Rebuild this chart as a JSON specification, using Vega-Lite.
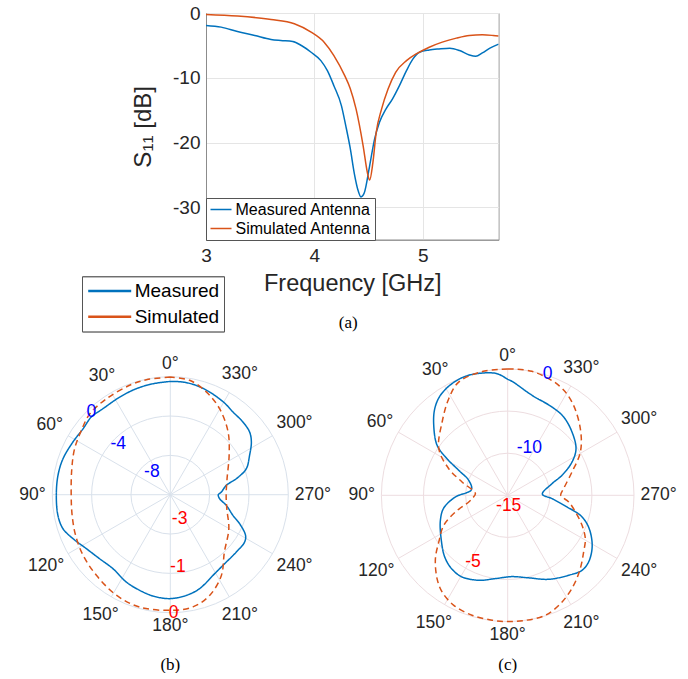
{
  "$schema": "https://vega.github.io/schema/vega-lite/v6.json",
  "background": "white",
  "padding": {"left": 11, "top": 3, "right": 0, "bottom": 0},
  "config": {
    "view": {"stroke": null},
    "font": "Liberation Sans",
    "title": {"font": "Liberation Serif", "fontSize": 17, "fontWeight": "normal", "color": "#000000"}
  },
  "datasets": {
    "s11": [
      {"antenna": "Measured Antenna", "freq": 3.00, "s11": -1.92},
      {"antenna": "Measured Antenna", "freq": 3.14, "s11": -2.18},
      {"antenna": "Measured Antenna", "freq": 3.29, "s11": -2.85},
      {"antenna": "Measured Antenna", "freq": 3.45, "s11": -3.47},
      {"antenna": "Measured Antenna", "freq": 3.60, "s11": -4.09},
      {"antenna": "Measured Antenna", "freq": 3.69, "s11": -4.25},
      {"antenna": "Measured Antenna", "freq": 3.80, "s11": -4.40},
      {"antenna": "Measured Antenna", "freq": 3.88, "s11": -5.02},
      {"antenna": "Measured Antenna", "freq": 3.97, "s11": -6.06},
      {"antenna": "Measured Antenna", "freq": 4.06, "s11": -7.35},
      {"antenna": "Measured Antenna", "freq": 4.12, "s11": -8.90},
      {"antenna": "Measured Antenna", "freq": 4.18, "s11": -11.22},
      {"antenna": "Measured Antenna", "freq": 4.25, "s11": -14.33},
      {"antenna": "Measured Antenna", "freq": 4.29, "s11": -17.43},
      {"antenna": "Measured Antenna", "freq": 4.33, "s11": -20.8},
      {"antenna": "Measured Antenna", "freq": 4.37, "s11": -24.9},
      {"antenna": "Measured Antenna", "freq": 4.40, "s11": -27.2},
      {"antenna": "Measured Antenna", "freq": 4.43, "s11": -28.4},
      {"antenna": "Measured Antenna", "freq": 4.46, "s11": -27.8},
      {"antenna": "Measured Antenna", "freq": 4.51, "s11": -23.6},
      {"antenna": "Measured Antenna", "freq": 4.555, "s11": -19.5},
      {"antenna": "Measured Antenna", "freq": 4.60, "s11": -16.9},
      {"antenna": "Measured Antenna", "freq": 4.66, "s11": -14.84},
      {"antenna": "Measured Antenna", "freq": 4.72, "s11": -13.3},
      {"antenna": "Measured Antenna", "freq": 4.785, "s11": -11.22},
      {"antenna": "Measured Antenna", "freq": 4.85, "s11": -8.9},
      {"antenna": "Measured Antenna", "freq": 4.91, "s11": -7.09},
      {"antenna": "Measured Antenna", "freq": 4.97, "s11": -6.06},
      {"antenna": "Measured Antenna", "freq": 5.06, "s11": -5.7},
      {"antenna": "Measured Antenna", "freq": 5.15, "s11": -5.54},
      {"antenna": "Measured Antenna", "freq": 5.25, "s11": -5.43},
      {"antenna": "Measured Antenna", "freq": 5.34, "s11": -5.8},
      {"antenna": "Measured Antenna", "freq": 5.43, "s11": -6.47},
      {"antenna": "Measured Antenna", "freq": 5.49, "s11": -6.67},
      {"antenna": "Measured Antenna", "freq": 5.55, "s11": -6.16},
      {"antenna": "Measured Antenna", "freq": 5.62, "s11": -5.43},
      {"antenna": "Measured Antenna", "freq": 5.70, "s11": -4.8},
      {"antenna": "Simulated Antenna", "freq": 3.00, "s11": -0.22},
      {"antenna": "Simulated Antenna", "freq": 3.29, "s11": -0.47},
      {"antenna": "Simulated Antenna", "freq": 3.60, "s11": -0.99},
      {"antenna": "Simulated Antenna", "freq": 3.815, "s11": -1.66},
      {"antenna": "Simulated Antenna", "freq": 3.97, "s11": -2.95},
      {"antenna": "Simulated Antenna", "freq": 4.09, "s11": -4.5},
      {"antenna": "Simulated Antenna", "freq": 4.18, "s11": -6.57},
      {"antenna": "Simulated Antenna", "freq": 4.28, "s11": -9.67},
      {"antenna": "Simulated Antenna", "freq": 4.33, "s11": -11.6},
      {"antenna": "Simulated Antenna", "freq": 4.385, "s11": -14.84},
      {"antenna": "Simulated Antenna", "freq": 4.45, "s11": -20.5},
      {"antenna": "Simulated Antenna", "freq": 4.49, "s11": -24.7},
      {"antenna": "Simulated Antenna", "freq": 4.51, "s11": -25.8},
      {"antenna": "Simulated Antenna", "freq": 4.54, "s11": -23.1},
      {"antenna": "Simulated Antenna", "freq": 4.57, "s11": -18.5},
      {"antenna": "Simulated Antenna", "freq": 4.62, "s11": -14.84},
      {"antenna": "Simulated Antenna", "freq": 4.68, "s11": -11.74},
      {"antenna": "Simulated Antenna", "freq": 4.75, "s11": -9.16},
      {"antenna": "Simulated Antenna", "freq": 4.85, "s11": -7.35},
      {"antenna": "Simulated Antenna", "freq": 4.94, "s11": -6.32},
      {"antenna": "Simulated Antenna", "freq": 5.06, "s11": -5.28},
      {"antenna": "Simulated Antenna", "freq": 5.18, "s11": -4.5},
      {"antenna": "Simulated Antenna", "freq": 5.31, "s11": -3.88},
      {"antenna": "Simulated Antenna", "freq": 5.43, "s11": -3.47},
      {"antenna": "Simulated Antenna", "freq": 5.55, "s11": -3.37},
      {"antenna": "Simulated Antenna", "freq": 5.65, "s11": -3.47},
      {"antenna": "Simulated Antenna", "freq": 5.70, "s11": -3.55}
    ],
    "angles": [
      {"a": 0, "t": "0°"}, {"a": 30, "t": "30°"}, {"a": 60, "t": "60°"}, {"a": 90, "t": "90°"},
      {"a": 120, "t": "120°"}, {"a": 150, "t": "150°"}, {"a": 180, "t": "180°"}, {"a": 210, "t": "210°"},
      {"a": 240, "t": "240°"}, {"a": 270, "t": "270°"}, {"a": 300, "t": "300°"}, {"a": 330, "t": "330°"}
    ],
    "rings": [{"ring": 0.3333}, {"ring": 0.6667}, {"ring": 1}],
    "patB": [
      {"series": "Measured", "theta": 0, "db": -0.48},
      {"series": "Measured", "theta": 8.9, "db": -0.58},
      {"series": "Measured", "theta": 17.8, "db": -0.68},
      {"series": "Measured", "theta": 27.4, "db": -0.82},
      {"series": "Measured", "theta": 38.1, "db": -0.89},
      {"series": "Measured", "theta": 45.5, "db": -0.73},
      {"series": "Measured", "theta": 52.9, "db": -0.88},
      {"series": "Measured", "theta": 61.6, "db": -0.74},
      {"series": "Measured", "theta": 71.5, "db": -0.49},
      {"series": "Measured", "theta": 80.2, "db": -0.41},
      {"series": "Measured", "theta": 90, "db": -0.41},
      {"series": "Measured", "theta": 100.4, "db": -0.38},
      {"series": "Measured", "theta": 107.6, "db": -0.55},
      {"series": "Measured", "theta": 114.3, "db": -1.14},
      {"series": "Measured", "theta": 122.7, "db": -1.85},
      {"series": "Measured", "theta": 132.2, "db": -2.30},
      {"series": "Measured", "theta": 142.2, "db": -2.48},
      {"series": "Measured", "theta": 153.3, "db": -2.05},
      {"series": "Measured", "theta": 162.2, "db": -1.79},
      {"series": "Measured", "theta": 170.3, "db": -1.55},
      {"series": "Measured", "theta": 179.6, "db": -1.43},
      {"series": "Measured", "theta": 189, "db": -1.63},
      {"series": "Measured", "theta": 197.3, "db": -1.99},
      {"series": "Measured", "theta": 207.9, "db": -2.72},
      {"series": "Measured", "theta": 216.7, "db": -3.04},
      {"series": "Measured", "theta": 229, "db": -3.11},
      {"series": "Measured", "theta": 237.5, "db": -3.04},
      {"series": "Measured", "theta": 241.6, "db": -3.30},
      {"series": "Measured", "theta": 247.3, "db": -4.36},
      {"series": "Measured", "theta": 251.7, "db": -5.29},
      {"series": "Measured", "theta": 259.2, "db": -6.20},
      {"series": "Measured", "theta": 265.4, "db": -6.97},
      {"series": "Measured", "theta": 270, "db": -7.12},
      {"series": "Measured", "theta": 273, "db": -6.80},
      {"series": "Measured", "theta": 279.5, "db": -6.23},
      {"series": "Measured", "theta": 283.6, "db": -5.09},
      {"series": "Measured", "theta": 288.9, "db": -3.83},
      {"series": "Measured", "theta": 296.4, "db": -3.00},
      {"series": "Measured", "theta": 303, "db": -2.17},
      {"series": "Measured", "theta": 308.3, "db": -1.72},
      {"series": "Measured", "theta": 315, "db": -1.55},
      {"series": "Measured", "theta": 322.8, "db": -1.45},
      {"series": "Measured", "theta": 329.6, "db": -1.16},
      {"series": "Measured", "theta": 339, "db": -0.82},
      {"series": "Measured", "theta": 346.6, "db": -0.58},
      {"series": "Measured", "theta": 353.6, "db": -0.47},
      {"series": "Measured", "theta": 360, "db": -0.48},
      {"series": "Simulated", "theta": 0, "db": -0.01},
      {"series": "Simulated", "theta": 11.7, "db": -0.015},
      {"series": "Simulated", "theta": 19.8, "db": -0.03},
      {"series": "Simulated", "theta": 33.7, "db": -0.07},
      {"series": "Simulated", "theta": 44.9, "db": -0.10},
      {"series": "Simulated", "theta": 54.1, "db": -0.21},
      {"series": "Simulated", "theta": 64.3, "db": -0.30},
      {"series": "Simulated", "theta": 75.2, "db": -0.41},
      {"series": "Simulated", "theta": 90, "db": -0.48},
      {"series": "Simulated", "theta": 101.9, "db": -0.45},
      {"series": "Simulated", "theta": 113.2, "db": -0.38},
      {"series": "Simulated", "theta": 124.8, "db": -0.30},
      {"series": "Simulated", "theta": 137.5, "db": -0.22},
      {"series": "Simulated", "theta": 151.8, "db": -0.10},
      {"series": "Simulated", "theta": 164.7, "db": -0.04},
      {"series": "Simulated", "theta": 180, "db": -0.06},
      {"series": "Simulated", "theta": 191.4, "db": -0.09},
      {"series": "Simulated", "theta": 201.3, "db": -0.25},
      {"series": "Simulated", "theta": 212.3, "db": -0.57},
      {"series": "Simulated", "theta": 223.1, "db": -0.99},
      {"series": "Simulated", "theta": 239.9, "db": -1.28},
      {"series": "Simulated", "theta": 256.1, "db": -1.52},
      {"series": "Simulated", "theta": 270, "db": -1.58},
      {"series": "Simulated", "theta": 285.8, "db": -1.50},
      {"series": "Simulated", "theta": 303.8, "db": -1.20},
      {"series": "Simulated", "theta": 317.4, "db": -0.83},
      {"series": "Simulated", "theta": 330.2, "db": -0.48},
      {"series": "Simulated", "theta": 340.7, "db": -0.23},
      {"series": "Simulated", "theta": 350.4, "db": -0.05},
      {"series": "Simulated", "theta": 360, "db": -0.01}
    ],
    "patC": [
      {"series": "Measured", "theta": 0, "db": -1.23},
      {"series": "Measured", "theta": 5, "db": -0.50},
      {"series": "Measured", "theta": 11.8, "db": -0.17},
      {"series": "Measured", "theta": 19.5, "db": 0},
      {"series": "Measured", "theta": 26.5, "db": -0.18},
      {"series": "Measured", "theta": 34, "db": -0.69},
      {"series": "Measured", "theta": 40.1, "db": -1.55},
      {"series": "Measured", "theta": 46.6, "db": -2.91},
      {"series": "Measured", "theta": 54.7, "db": -4.73},
      {"series": "Measured", "theta": 58.9, "db": -6.59},
      {"series": "Measured", "theta": 63, "db": -8.48},
      {"series": "Measured", "theta": 69, "db": -10.04},
      {"series": "Measured", "theta": 81.1, "db": -10.64},
      {"series": "Measured", "theta": 91.8, "db": -8.79},
      {"series": "Measured", "theta": 101.2, "db": -7.26},
      {"series": "Measured", "theta": 110.4, "db": -6.47},
      {"series": "Measured", "theta": 123, "db": -5.57},
      {"series": "Measured", "theta": 134.4, "db": -4.53},
      {"series": "Measured", "theta": 143, "db": -4.01},
      {"series": "Measured", "theta": 150.8, "db": -3.89},
      {"series": "Measured", "theta": 161.2, "db": -4.34},
      {"series": "Measured", "theta": 171.6, "db": -5.0},
      {"series": "Measured", "theta": 183, "db": -5.33},
      {"series": "Measured", "theta": 194.3, "db": -4.88},
      {"series": "Measured", "theta": 206, "db": -3.90},
      {"series": "Measured", "theta": 217.3, "db": -3.06},
      {"series": "Measured", "theta": 224.7, "db": -2.46},
      {"series": "Measured", "theta": 230.5, "db": -2.55},
      {"series": "Measured", "theta": 237.7, "db": -3.15},
      {"series": "Measured", "theta": 244.4, "db": -4.02},
      {"series": "Measured", "theta": 250.3, "db": -5.0},
      {"series": "Measured", "theta": 254.6, "db": -6.05},
      {"series": "Measured", "theta": 258.9, "db": -7.82},
      {"series": "Measured", "theta": 265.7, "db": -9.72},
      {"series": "Measured", "theta": 272, "db": -10.88},
      {"series": "Measured", "theta": 284.7, "db": -9.56},
      {"series": "Measured", "theta": 290.2, "db": -8.13},
      {"series": "Measured", "theta": 297.4, "db": -6.39},
      {"series": "Measured", "theta": 304.3, "db": -5.18},
      {"series": "Measured", "theta": 314.6, "db": -4.28},
      {"series": "Measured", "theta": 324.4, "db": -3.57},
      {"series": "Measured", "theta": 333.3, "db": -3.27},
      {"series": "Measured", "theta": 346.3, "db": -2.78},
      {"series": "Measured", "theta": 357.8, "db": -1.46},
      {"series": "Measured", "theta": 360, "db": -1.23},
      {"series": "Simulated", "theta": 0, "db": 0},
      {"series": "Simulated", "theta": 11.6, "db": 0},
      {"series": "Simulated", "theta": 23.4, "db": -0.35},
      {"series": "Simulated", "theta": 31.4, "db": -1.56},
      {"series": "Simulated", "theta": 41.8, "db": -3.32},
      {"series": "Simulated", "theta": 55.9, "db": -5.12},
      {"series": "Simulated", "theta": 65.7, "db": -7.32},
      {"series": "Simulated", "theta": 73.7, "db": -9.35},
      {"series": "Simulated", "theta": 87, "db": -11.16},
      {"series": "Simulated", "theta": 95.3, "db": -10.74},
      {"series": "Simulated", "theta": 99.7, "db": -10.31},
      {"series": "Simulated", "theta": 107.7, "db": -8.48},
      {"series": "Simulated", "theta": 115.1, "db": -6.62},
      {"series": "Simulated", "theta": 124.1, "db": -5.12},
      {"series": "Simulated", "theta": 131.2, "db": -3.59},
      {"series": "Simulated", "theta": 139.7, "db": -2.03},
      {"series": "Simulated", "theta": 145.8, "db": -1.13},
      {"series": "Simulated", "theta": 153.9, "db": -0.45},
      {"series": "Simulated", "theta": 163.4, "db": -0.14},
      {"series": "Simulated", "theta": 172.9, "db": -0.05},
      {"series": "Simulated", "theta": 180, "db": 0},
      {"series": "Simulated", "theta": 188, "db": 0},
      {"series": "Simulated", "theta": 197.4, "db": -0.06},
      {"series": "Simulated", "theta": 207, "db": -0.78},
      {"series": "Simulated", "theta": 216.3, "db": -1.76},
      {"series": "Simulated", "theta": 224.7, "db": -2.75},
      {"series": "Simulated", "theta": 233.3, "db": -3.75},
      {"series": "Simulated", "theta": 240.8, "db": -4.44},
      {"series": "Simulated", "theta": 248, "db": -5.48},
      {"series": "Simulated", "theta": 256.2, "db": -6.72},
      {"series": "Simulated", "theta": 263.8, "db": -7.71},
      {"series": "Simulated", "theta": 270, "db": -8.7},
      {"series": "Simulated", "theta": 276.8, "db": -8.31},
      {"series": "Simulated", "theta": 290, "db": -6.87},
      {"series": "Simulated", "theta": 300.8, "db": -4.95},
      {"series": "Simulated", "theta": 312.5, "db": -3.3},
      {"series": "Simulated", "theta": 325.4, "db": -1.55},
      {"series": "Simulated", "theta": 335.1, "db": -0.6},
      {"series": "Simulated", "theta": 349, "db": 0},
      {"series": "Simulated", "theta": 360, "db": 0}
    ]
  },
  "spacing": 10.7,
  "resolve": {"scale": {"color": "independent", "strokeDash": "independent", "size": "independent"}},
  "vconcat": [
    {
      "spacing": 10,
      "resolve": {"scale": {"color": "independent", "strokeDash": "independent"}},
      "hconcat": [
        {
          "width": 60, "height": 20,
          "data": {"values": [{"t": ""}]},
          "mark": {"type": "text"},
          "encoding": {"text": {"field": "t"}}
        },
        {
          "width": 292.6, "height": 226.7,
          "view": {"stroke": "#a0a0a0"},
          "title": {"text": "(a)", "orient": "bottom", "frame": "group", "anchor": "middle", "offset": -17, "dx": -4},
          "layer": [
            {
              "data": {"name": "s11"},
              "mark": {"type": "line", "strokeWidth": 1.5, "interpolate": "monotone", "clip": true},
              "encoding": {
                "x": {"field": "freq", "type": "quantitative",
                  "scale": {"domain": [3, 5.7], "nice": false, "zero": false},
                  "axis": {"values": [3, 4, 5], "format": "d", "labelFlush": false, "grid": true, "gridColor": "#e5e5e5", "domainColor": "#8c8c8c", "ticks": false, "tickSize": 0,
                    "labelFontSize": 19, "labelColor": "#262626", "labelPadding": 7,
                    "title": "Frequency [GHz]", "titleFontSize": 23.5, "titleFontWeight": "normal", "titleColor": "#262626", "titlePadding": 6}},
                "y": {"field": "s11", "type": "quantitative",
                  "scale": {"domain": [-35, 0], "nice": false, "zero": false},
                  "axis": {"values": [-30, -20, -10, 0], "labelExpr": "replace(datum.label, '−', '-')", "labelFlush": false, "grid": true, "gridColor": "#e5e5e5", "domainColor": "#8c8c8c", "ticks": false, "tickSize": 0,
                    "labelFontSize": 19, "labelColor": "#262626", "labelPadding": 6,
                    "title": "S₁₁ [dB]", "titleFontSize": 24, "titleFontWeight": "normal", "titleColor": "#262626", "titlePadding": 17}},
                "color": {"field": "antenna", "type": "nominal",
                  "scale": {"domain": ["Measured Antenna", "Simulated Antenna"], "range": ["#0072BD", "#D95319"]},
                  "legend": {"orient": "bottom-left", "offset": 0, "title": null, "labelFontSize": 16, "labelColor": "#000000",
                    "symbolType": "stroke", "symbolSize": 441, "symbolStrokeWidth": 1.5, "clipHeight": 16, "rowPadding": 3,
                    "labelOffset": 3, "padding": 3.5, "strokeColor": "#555555", "fillColor": "#ffffff"}}
              }
            },
            {
              "data": {"values": [{"kind": "Measured"}, {"kind": "Simulated"}]},
              "mark": {"type": "line", "strokeWidth": 2.5},
              "encoding": {
                "x": {"datum": 3, "type": "quantitative"},
                "y": {"datum": 0, "type": "quantitative"},
                "color": {"field": "kind", "type": "nominal",
                  "scale": {"domain": ["Measured", "Simulated"], "range": ["#0072BD", "#D95319"]},
                  "legend": {"orient": "none", "legendX": -124, "legendY": 263.4, "title": null, "labelFontSize": 19, "labelColor": "#000000",
                    "symbolType": "stroke", "symbolSize": 1849, "symbolStrokeWidth": 2.5, "clipHeight": 20, "rowPadding": 5.6,
                    "labelOffset": 2, "padding": 4.7, "strokeColor": "#555555", "fillColor": "#ffffff"}},
                "strokeDash": {"field": "kind", "type": "nominal",
                  "scale": {"domain": ["Measured", "Simulated"], "range": [[1, 0], [8, 6]]},
                  "legend": {"orient": "none", "legendX": -124, "legendY": 263.4, "title": null, "labelFontSize": 19, "labelColor": "#000000",
                    "symbolType": "stroke", "symbolSize": 1849, "symbolStrokeWidth": 2.5, "clipHeight": 20, "rowPadding": 5.6,
                    "labelOffset": 2, "padding": 4.7, "strokeColor": "#555555", "fillColor": "#ffffff"}}
              }
            }
          ],
          "resolve": {"scale": {"color": "independent"}}
        }
      ]
    },
    {
      "spacing": 11.5,
      "resolve": {"scale": {"color": "independent", "strokeDash": "independent", "size": "independent"}},
      "hconcat": [
        {
          "width": 318.6, "height": 309.3,
          "title": {"text": "(b)", "orient": "bottom", "offset": 4},
          "encoding": {
            "x": {"field": "px", "type": "quantitative", "scale": {"domain": [-1.35, 1.35], "nice": false, "zero": false}, "axis": null},
            "y": {"field": "py", "type": "quantitative", "scale": {"domain": [-1.3415, 1.2797], "nice": false, "zero": false}, "axis": null}
          },
          "layer": [
            {
              "data": {"name": "rings"},
              "transform": [{"calculate": "0", "as": "px"}, {"calculate": "0", "as": "py"}],
              "mark": {"type": "point", "shape": "circle", "filled": false, "stroke": "#d9e1eb", "strokeWidth": 1, "opacity": 1},
              "encoding": {"size": {"field": "ring", "type": "quantitative", "scale": {"type": "pow", "exponent": 2, "domain": [0, 1], "range": [0, 55696], "zero": true}, "legend": null}}
            },
            {
              "data": {"name": "angles"},
              "transform": [
                {"calculate": "0", "as": "px"}, {"calculate": "0", "as": "py"},
                {"calculate": "-sin(datum.a * PI / 180)", "as": "ex"},
                {"calculate": "cos(datum.a * PI / 180)", "as": "ey"}
              ],
              "mark": {"type": "rule", "stroke": "#d9e1eb", "strokeWidth": 1},
              "encoding": {"x2": {"field": "ex"}, "y2": {"field": "ey"}}
            },
            {
              "data": {"name": "patB"},
              "transform": [
                {"calculate": "datum.series === 'Measured' ? (datum.db + 12) / 12 : (datum.db + 3) / 3", "as": "rn"},
                {"calculate": "-datum.rn * sin(datum.theta * PI / 180)", "as": "px"},
                {"calculate": "datum.rn * cos(datum.theta * PI / 180)", "as": "py"}
              ],
              "mark": {"type": "line", "strokeWidth": 1.5, "interpolate": "catmull-rom"},
              "encoding": {
                "color": {"field": "series", "type": "nominal", "scale": {"domain": ["Measured", "Simulated"], "range": ["#0072BD", "#D95319"]}, "legend": null},
                "strokeDash": {"field": "series", "type": "nominal", "scale": {"domain": ["Measured", "Simulated"], "range": [[1, 0], [6, 4]]}, "legend": null},
                "order": {"field": "theta", "type": "quantitative"}
              }
            },
            {
              "data": {"name": "angles"},
              "transform": [
                {"calculate": "datum.a * PI / 180", "as": "ar"},
                {"calculate": "1 + (6.5 + ((length(datum.t) - 1) * 4.87 + 3.5) * abs(sin(datum.ar)) + 6.5 * abs(cos(datum.ar))) / 118", "as": "rl"},
                {"calculate": "-datum.rl * sin(datum.ar)", "as": "px"},
                {"calculate": "datum.rl * cos(datum.ar)", "as": "py"}
              ],
              "mark": {"type": "text", "fontSize": 17.5, "color": "#262626", "align": "center", "baseline": "middle"},
              "encoding": {"text": {"field": "t"}}
            },
            {
              "data": {"values": [{"t": "0", "a": 43.7, "r": 0.969}, {"t": "-4", "a": 45.6, "r": 0.617}, {"t": "-8", "a": 39, "r": 0.248}]},
              "transform": [
                {"calculate": "-datum.r * sin(datum.a * PI / 180)", "as": "px"},
                {"calculate": "datum.r * cos(datum.a * PI / 180)", "as": "py"}
              ],
              "mark": {"type": "text", "fontSize": 17.5, "color": "#0000ff", "align": "center", "baseline": "middle"},
              "encoding": {"text": {"field": "t"}}
            },
            {
              "data": {"values": [{"t": "-3", "a": 201.2, "r": 0.218}, {"t": "-1", "a": 186, "r": 0.616}, {"t": "0", "a": 181.6, "r": 1.0}]},
              "transform": [
                {"calculate": "-datum.r * sin(datum.a * PI / 180)", "as": "px"},
                {"calculate": "datum.r * cos(datum.a * PI / 180)", "as": "py"}
              ],
              "mark": {"type": "text", "fontSize": 17.5, "color": "#ff0000", "align": "center", "baseline": "middle"},
              "encoding": {"text": {"field": "t"}}
            }
          ]
        },
        {
          "width": 328.4, "height": 309.3,
          "title": {"text": "(c)", "orient": "bottom", "offset": 4},
          "encoding": {
            "x": {"field": "px", "type": "quantitative", "scale": {"domain": [-1.3, 1.3], "nice": false, "zero": false}, "axis": null},
            "y": {"field": "py", "type": "quantitative", "scale": {"domain": [-1.2486, 1.2003], "nice": false, "zero": false}, "axis": null}
          },
          "layer": [
            {
              "data": {"name": "rings"},
              "transform": [{"calculate": "0", "as": "px"}, {"calculate": "0", "as": "py"}],
              "mark": {"type": "point", "shape": "circle", "filled": false, "stroke": "#eddde0", "strokeWidth": 1, "opacity": 1},
              "encoding": {"size": {"field": "ring", "type": "quantitative", "scale": {"type": "pow", "exponent": 2, "domain": [0, 1], "range": [0, 63807], "zero": true}, "legend": null}}
            },
            {
              "data": {"name": "angles"},
              "transform": [
                {"calculate": "0", "as": "px"}, {"calculate": "0", "as": "py"},
                {"calculate": "-sin(datum.a * PI / 180)", "as": "ex"},
                {"calculate": "cos(datum.a * PI / 180)", "as": "ey"}
              ],
              "mark": {"type": "rule", "stroke": "#eddde0", "strokeWidth": 1},
              "encoding": {"x2": {"field": "ex"}, "y2": {"field": "ey"}}
            },
            {
              "data": {"name": "patC"},
              "transform": [
                {"calculate": "(datum.db + 15) / 15", "as": "rn"},
                {"calculate": "-datum.rn * sin(datum.theta * PI / 180)", "as": "px"},
                {"calculate": "datum.rn * cos(datum.theta * PI / 180)", "as": "py"}
              ],
              "mark": {"type": "line", "strokeWidth": 1.5, "interpolate": "catmull-rom"},
              "encoding": {
                "color": {"field": "series", "type": "nominal", "scale": {"domain": ["Measured", "Simulated"], "range": ["#0072BD", "#D95319"]}, "legend": null},
                "strokeDash": {"field": "series", "type": "nominal", "scale": {"domain": ["Measured", "Simulated"], "range": [[1, 0], [6, 4]]}, "legend": null},
                "order": {"field": "theta", "type": "quantitative"}
              }
            },
            {
              "data": {"name": "angles"},
              "transform": [
                {"calculate": "datum.a * PI / 180", "as": "ar"},
                {"calculate": "1 + (6.5 + ((length(datum.t) - 1) * 4.87 + 3.5) * abs(sin(datum.ar)) + 6.5 * abs(cos(datum.ar))) / 126.3", "as": "rl"},
                {"calculate": "-datum.rl * sin(datum.ar)", "as": "px"},
                {"calculate": "datum.rl * cos(datum.ar)", "as": "py"}
              ],
              "mark": {"type": "text", "fontSize": 17.5, "color": "#262626", "align": "center", "baseline": "middle"},
              "encoding": {"text": {"field": "t"}}
            },
            {
              "data": {"values": [{"t": "0", "a": 341.7, "r": 1.009}, {"t": "-10", "a": 335.5, "r": 0.412}]},
              "transform": [
                {"calculate": "-datum.r * sin(datum.a * PI / 180)", "as": "px"},
                {"calculate": "datum.r * cos(datum.a * PI / 180)", "as": "py"}
              ],
              "mark": {"type": "text", "fontSize": 17.5, "color": "#0000ff", "align": "center", "baseline": "middle"},
              "encoding": {"text": {"field": "t"}}
            },
            {
              "data": {"values": [{"t": "-15", "a": 185.3, "r": 0.085}, {"t": "-5", "a": 152.5, "r": 0.595}]},
              "transform": [
                {"calculate": "-datum.r * sin(datum.a * PI / 180)", "as": "px"},
                {"calculate": "datum.r * cos(datum.a * PI / 180)", "as": "py"}
              ],
              "mark": {"type": "text", "fontSize": 17.5, "color": "#ff0000", "align": "center", "baseline": "middle"},
              "encoding": {"text": {"field": "t"}}
            }
          ]
        }
      ]
    }
  ]
}
